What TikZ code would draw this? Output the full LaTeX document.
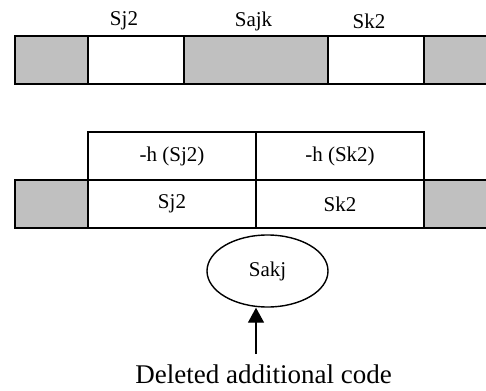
\documentclass[tikz,border=0pt]{standalone}
\usepackage{fontspec}
\setmainfont{Liberation Serif}
\usetikzlibrary{shapes.geometric,arrows.meta}

\tikzset{every picture/.style={line width=1.8pt}}
\tikzset{
  cell/.style={draw=black,fill=white,rectangle,inner sep=0pt,minimum height=48pt,font=\fontsize{21}{25}\selectfont},
  graycell/.style={cell,fill=shade},
  lbl/.style={font=\fontsize{21}{25}\selectfont,inner sep=0pt}
}
\definecolor{shade}{RGB}{192,192,192}

\begin{document}
\begin{tikzpicture}[x=1pt,y=1pt,yscale=-1,xscale=1]
\useasboundingbox (0,0) rectangle (486,390);

%Top row
\node [graycell,minimum width=73pt] (top1) at (51.5,60) {};
\node [cell,minimum width=96pt] (top2) at (136,60) {};
\node [graycell,minimum width=144pt] (top3) at (256,60) {};
\node [cell,minimum width=96pt] (top4) at (376,60) {};
\node [graycell,minimum width=73pt] (top5) at (460.5,60) {};

% Text Node
\node [lbl] (lsj) at (124,21) {Sj2};
% Text Node
\node [lbl] (lsajk) at (253.5,21) {Sajk};
% Text Node
\node [lbl] (lsk) at (369,21) {Sk2};

%Second table, upper row
\node [cell,minimum width=168pt] (hsj) at (172,156) {-h (Sj2)};
\node [cell,minimum width=168pt] (hsk) at (340,156) {-h (Sk2)};

%Second table, lower row
\node [graycell,minimum width=73pt] (bot1) at (51.5,204) {};
\node [cell,minimum width=168pt] (sj) at (172,204) {Sj2};
\node [cell,minimum width=168pt] (sk) at (340,204) {Sk2};
\node [graycell,minimum width=73pt] (bot4) at (460.5,204) {};

%Ellipse
\node [ellipse,draw,line width=1.4pt,minimum width=121pt,minimum height=72pt,inner sep=0pt,font=\fontsize{21}{25}\selectfont] (sakj) at (267.5,271) {Sakj};

% Text Node
\node [inner sep=0pt,font=\fontsize{27}{31}\selectfont] (note) at (263.5,374) {Deleted additional code};

%Arrow
\coordinate (tail) at (256,354);
\draw [line width=1.4pt,-{Triangle[width=16pt,length=15pt]}] (tail) -- (tail |- sakj.south);

\end{tikzpicture}
\end{document}
